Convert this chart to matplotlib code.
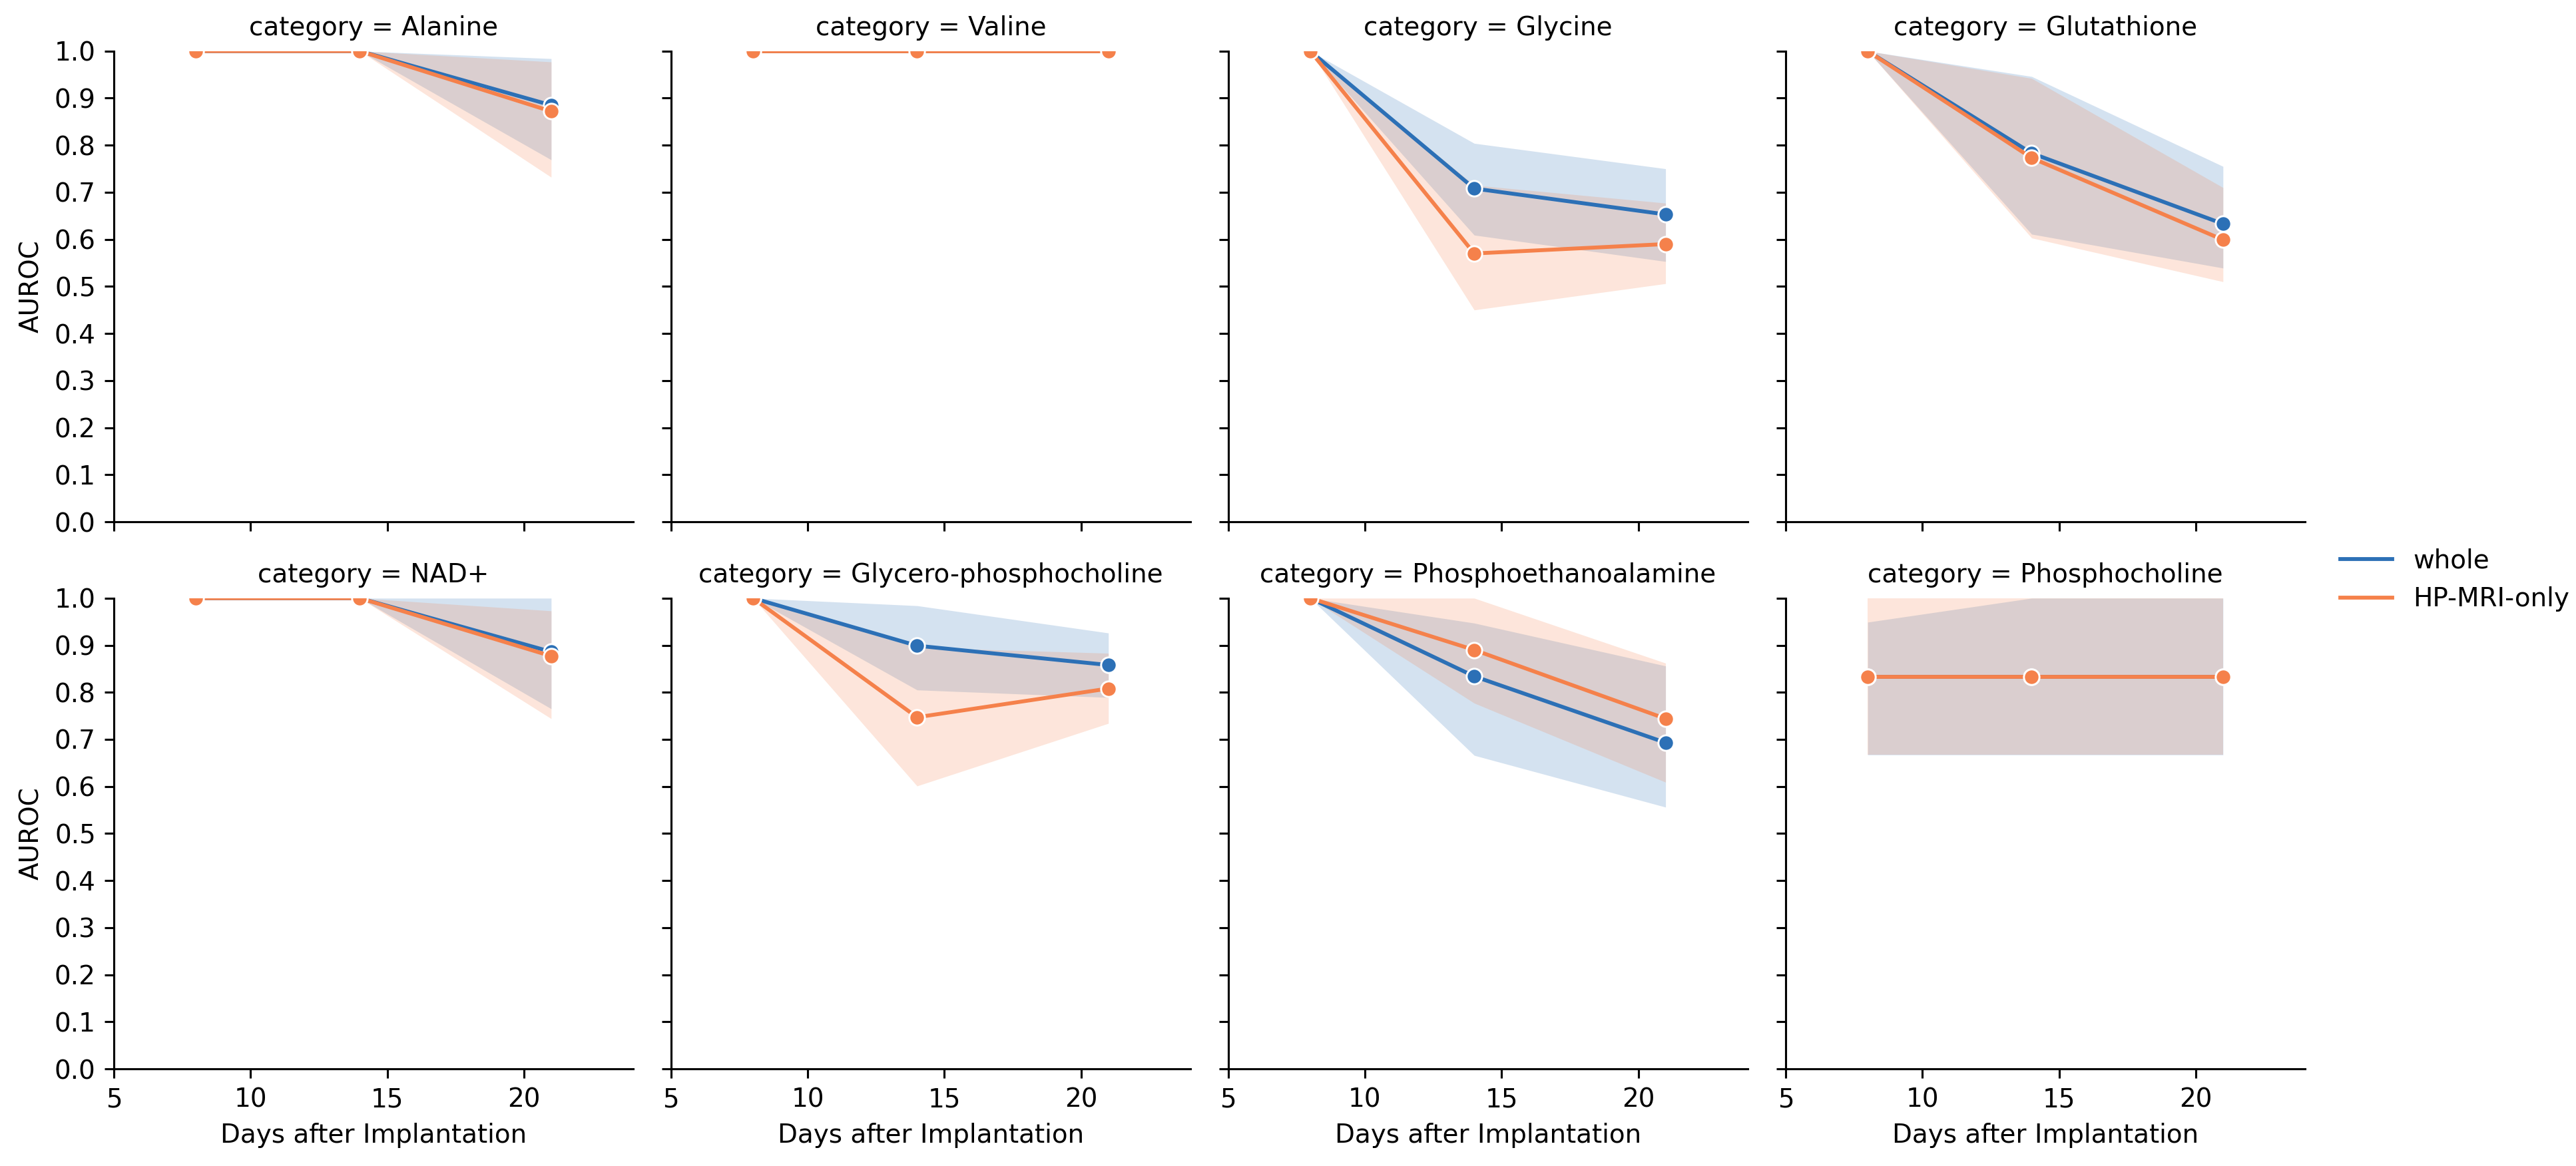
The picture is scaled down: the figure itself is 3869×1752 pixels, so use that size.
import matplotlib
matplotlib.use("Agg")
import matplotlib.pyplot as plt
import numpy as np

# data
days = [8, 14, 21]
categories = ["Alanine", "Valine", "Glycine", "Glutathione",
              "NAD+", "Glycero-phosphocholine", "Phosphoethanoalamine", "Phosphocholine"]
series_names = ["whole", "HP-MRI-only"]

whole_mean = [[1.0, 1.0, 0.885], [1.0, 1.0, 1.0], [1.0, 0.708, 0.653], [1.0, 0.783, 0.633],
              [1.0, 1.0, 0.886], [1.0, 0.899, 0.858], [1.0, 0.834, 0.693], [0.833, 0.833, 0.833]]
whole_lo = [[1.0, 1.0, 0.769], [1.0, 1.0, 1.0], [1.0, 0.609, 0.553], [1.0, 0.611, 0.539],
            [1.0, 1.0, 0.765], [1.0, 0.805, 0.789], [1.0, 0.666, 0.556], [0.667, 0.667, 0.667]]
whole_hi = [[1.0, 1.0, 0.984], [1.0, 1.0, 1.0], [1.0, 0.804, 0.750], [1.0, 0.946, 0.755],
            [1.0, 1.0, 1.0], [1.0, 0.984, 0.926], [1.0, 0.947, 0.856], [0.949, 1.0, 1.0]]

mri_mean = [[1.0, 1.0, 0.872], [1.0, 1.0, 1.0], [1.0, 0.570, 0.590], [1.0, 0.773, 0.599],
            [1.0, 1.0, 0.877], [1.0, 0.747, 0.808], [1.0, 0.890, 0.744], [0.833, 0.833, 0.833]]
mri_lo = [[1.0, 1.0, 0.732], [1.0, 1.0, 1.0], [1.0, 0.450, 0.506], [1.0, 0.603, 0.510],
          [1.0, 1.0, 0.744], [1.0, 0.601, 0.734], [1.0, 0.777, 0.609], [0.667, 0.667, 0.667]]
mri_hi = [[1.0, 1.0, 0.977], [1.0, 1.0, 1.0], [1.0, 0.715, 0.677], [1.0, 0.942, 0.710],
          [1.0, 1.0, 0.973], [1.0, 0.895, 0.883], [1.0, 1.0, 0.862], [1.0, 1.0, 1.0]]

colors = ["#2c70b6", "#f5814b"]

DPI = 280
fig = plt.figure(figsize=(3869 / DPI, 1752 / DPI), dpi=DPI)
plt.rcParams["font.size"] = 10

lefts = [0.0442, 0.2605, 0.4768, 0.6932]
bottoms = [0.5525, 0.0833]
w, h = 0.2016, 0.4037

series = [(whole_mean, whole_lo, whole_hi), (mri_mean, mri_lo, mri_hi)]
handles = []
for i, cat in enumerate(categories):
    row, col = divmod(i, 4)
    ax = fig.add_axes([lefts[col], bottoms[row], w, h])
    for k, (mean, lo, hi) in enumerate(series):
        ax.plot(days, mean[i], color=colors[k], lw=1.5, marker="o", ms=6,
                mec="white", mew=0.75, label=series_names[k])
        ax.fill_between(days, lo[i], hi[i], color=colors[k], alpha=0.2, lw=0)
        if i == 0:
            handles.append(plt.Line2D([], [], color=colors[k], lw=1.5))
    ax.set_xlim(5, 24)
    ax.set_ylim(0, 1)
    ax.set_xticks([5, 10, 15, 20])
    ax.set_yticks(np.arange(0, 1.01, 0.1))
    ax.spines["top"].set_visible(False)
    ax.spines["right"].set_visible(False)
    ax.set_title(f"category = {cat}", fontsize=10)
    if col == 0:
        ax.set_ylabel("AUROC")
    else:
        ax.tick_params(labelleft=False)
    if row == 1:
        ax.set_xlabel("Days after Implantation")
    else:
        ax.tick_params(labelbottom=False)

fig.legend(handles, series_names, loc="center left", bbox_to_anchor=(0.8995, 0.5026),
           frameon=False, fontsize=10)

fig.savefig("out.png", dpi=DPI)
